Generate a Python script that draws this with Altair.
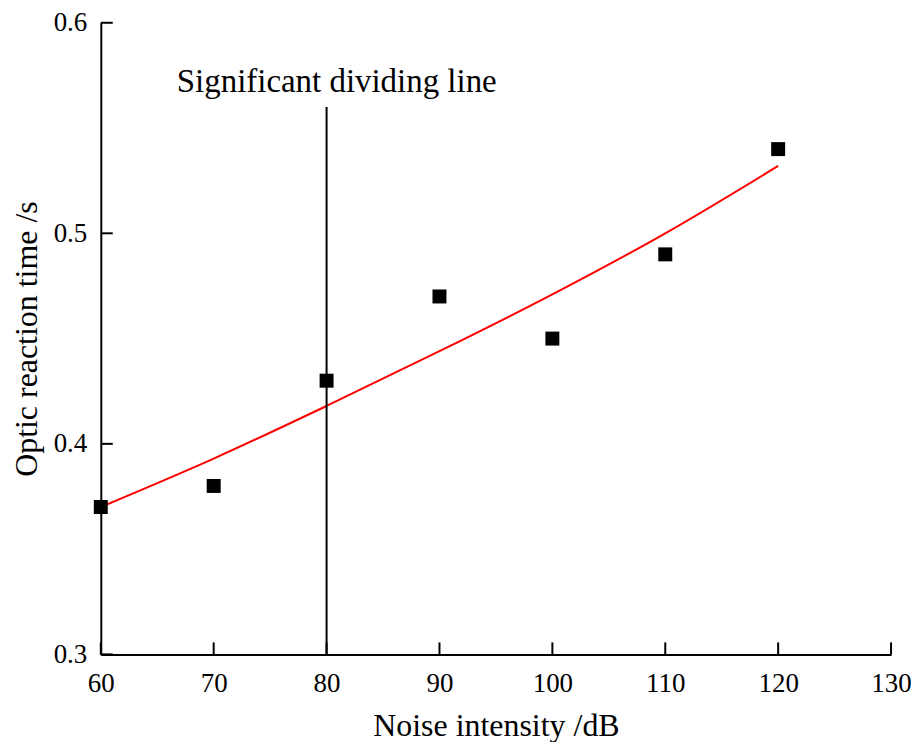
import altair as alt
import pandas as pd

# Data
noise = [60, 70, 80, 90, 100, 110, 120]
reaction = [0.37, 0.38, 0.43, 0.47, 0.45, 0.49, 0.54]

fit_x = [60, 70, 80, 90, 100, 110, 120]
fit_y = [0.370, 0.393, 0.418, 0.444, 0.471, 0.500, 0.532]

divider_x = [80]
divider_y0 = [0.3]
divider_y1 = [0.56]

label_text = ["Significant dividing line"]
label_x = [80.9]
label_y = [0.572]

x_ticks = [60, 70, 80, 90, 100, 110, 120, 130]
y_ticks = [0.3, 0.4, 0.5, 0.6]

W, H = 792, 633
FONT = "Liberation Serif"

pts = pd.DataFrame({"x": noise, "y": reaction})
fit = pd.DataFrame({"x": fit_x, "y": fit_y})
div = pd.DataFrame({"x": divider_x, "y": divider_y0, "y2": divider_y1})
lab = pd.DataFrame({"x": label_x, "y": label_y, "t": label_text})
xt = pd.DataFrame({"x": x_ticks})
yt = pd.DataFrame({"y": y_ticks})

xscale = alt.Scale(domain=[60, 130], nice=False, zero=False)
yscale = alt.Scale(domain=[0.3, 0.6], nice=False, zero=False)

xaxis = alt.Axis(values=x_ticks, title="Noise intensity /dB", ticks=False,
                 labelPadding=16, titlePadding=14, labelFlush=False, grid=False)
yaxis = alt.Axis(values=y_ticks, title="Optic reaction time /s", ticks=False,
                 labelPadding=14, titlePadding=10, labelFlush=False, grid=False,
                 format=".1f")

base_pts = alt.Chart(pts).mark_square(size=196, color="black", opacity=1).encode(
    x=alt.X("x:Q", scale=xscale, axis=xaxis),
    y=alt.Y("y:Q", scale=yscale, axis=yaxis),
)

fit_line = alt.Chart(fit).mark_line(color="#ff0000", strokeWidth=2, interpolate="monotone").encode(
    x=alt.X("x:Q", scale=xscale),
    y=alt.Y("y:Q", scale=yscale),
)

div_rule = alt.Chart(div).mark_rule(color="black", strokeWidth=2).encode(
    x=alt.X("x:Q", scale=xscale),
    y=alt.Y("y:Q", scale=yscale),
    y2="y2:Q",
)

label = alt.Chart(lab).mark_text(font=FONT, fontSize=33, color="black", align="center",
                                 baseline="middle").encode(
    x=alt.X("x:Q", scale=xscale),
    y=alt.Y("y:Q", scale=yscale),
    text="t:N",
)

xtick_rules = alt.Chart(xt).mark_rule(color="black", strokeWidth=2).encode(
    x=alt.X("x:Q", scale=xscale),
    y=alt.value(H),
    y2=alt.value(H - 12),
)
ytick_rules = alt.Chart(yt).mark_rule(color="black", strokeWidth=2).encode(
    y=alt.Y("y:Q", scale=yscale),
    x=alt.value(0),
    x2=alt.value(12),
)

chart = alt.layer(fit_line, div_rule, label, xtick_rules, ytick_rules, base_pts).properties(
    width=W, height=H, background="white",
    padding={"top": 0, "left": 2, "right": 0, "bottom": 0},
).configure(
    view=alt.ViewConfig(stroke=None),
    axis=alt.AxisConfig(
        domainColor="black", domainWidth=2,
        labelFont=FONT, titleFont=FONT, labelFontSize=27, titleFontSize=32,
        labelColor="black", titleColor="black", titleFontWeight="normal",
    ),
)

chart.save("out.html", embed_options={"renderer": "svg", "actions": False})
